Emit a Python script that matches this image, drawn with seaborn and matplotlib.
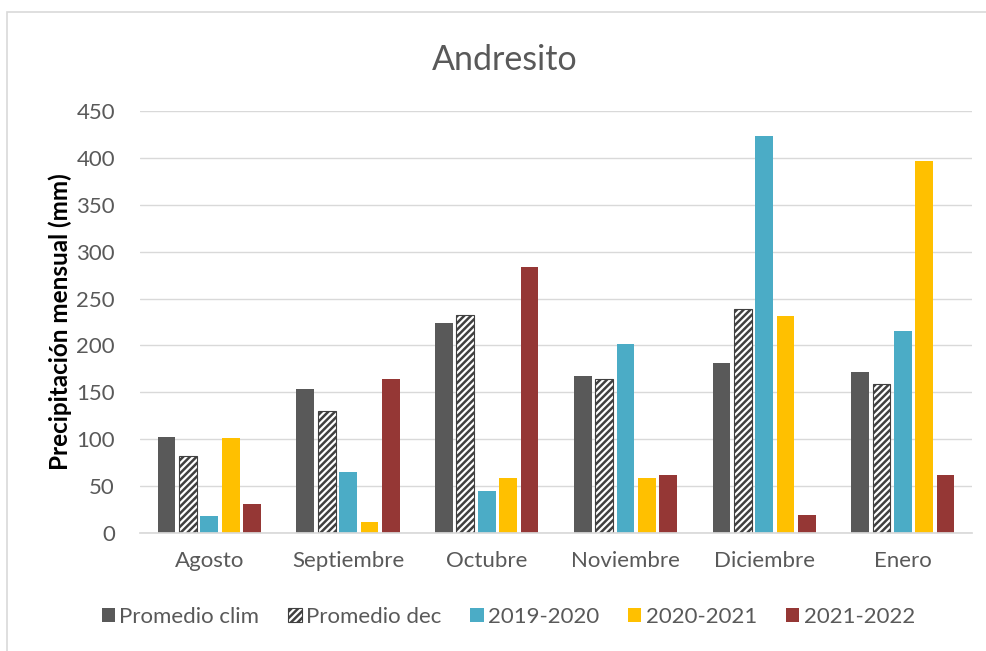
import matplotlib
matplotlib.use("Agg")
import matplotlib.pyplot as plt
import matplotlib.patches as mpatches
import numpy as np
import pandas as pd
import seaborn as sns

meses = ["Agosto", "Septiembre", "Octubre", "Noviembre", "Diciembre", "Enero"]
series = ["Promedio clim", "Promedio dec", "2019-2020", "2020-2021", "2021-2022"]

promedio_clim = [103, 154, 224, 168, 181, 172]
promedio_dec = [82, 130, 232, 164, 239, 159]
p2019_2020 = [18, 65, 45, 202, 423, 215]
p2020_2021 = [101, 12, 59, 59, 231, 396]
p2021_2022 = [31, 164, 284, 62, 19, 62]

valores = [promedio_clim, promedio_dec, p2019_2020, p2020_2021, p2021_2022]
colores = ["#595959", "#ffffff", "#4bacc6", "#ffc000", "#953735"]

df = pd.DataFrame(
    [(m, s, v) for s, vals in zip(series, valores) for m, v in zip(meses, vals)],
    columns=["mes", "serie", "valor"],
)

sns.set_theme(style="white")
plt.rcParams["font.family"] = ["Lato", "DejaVu Sans"]
plt.rcParams["hatch.color"] = "#404040"
plt.rcParams["hatch.linewidth"] = 1.8

fig = plt.figure(figsize=(9.87, 6.51), dpi=100)
ax = fig.add_axes([0.1418, 0.1808, 0.8432, 0.6492])

sns.barplot(
    data=df, x="mes", y="valor", hue="serie", order=meses, hue_order=series,
    palette=dict(zip(series, colores)), width=0.77, gap=0.17,
    saturation=1, legend=False, ax=ax, linewidth=0,
)

# hatched decadal average
n = len(meses)
for patch in ax.patches[n:2 * n]:
    patch.set_hatch("/////")
    patch.set_edgecolor("#404040")
    patch.set_linewidth(0.8)

ax.set_ylim(0, 450)
ax.set_yticks(np.arange(0, 451, 50))
ax.set_xlim(-0.5, n - 0.5)
ax.yaxis.grid(True, color="#d9d9d9", linewidth=1.0)
ax.set_axisbelow(True)
for side in ["left", "right", "top"]:
    ax.spines[side].set_visible(False)
ax.spines["bottom"].set_color("#d9d9d9")
ax.tick_params(axis="both", length=0, labelsize=16, labelcolor="#595959")
ax.tick_params(axis="y", pad=18)
ax.tick_params(axis="x", pad=13)
ax.set_xlabel("")
ax.set_ylabel("Precipitación mensual (mm)", fontsize=17.5, fontweight="bold",
              color="black", labelpad=3)
fig.text(505 / 987, 1 - 60 / 651, "Andresito", fontsize=24.5, color="#595959",
         ha="center", va="center")

handles = []
for s, c in zip(series, colores):
    if s == "Promedio dec":
        handles.append(mpatches.Patch(facecolor="white", edgecolor="#404040",
                                      hatch="/////", linewidth=0.8, label=s))
    else:
        handles.append(mpatches.Patch(facecolor=c, edgecolor="none", label=s))
fig.legend(handles=handles, loc="center", bbox_to_anchor=(0.515, 0.052),
           ncol=5, frameon=False, fontsize=16, labelcolor="#595959",
           handlelength=0.6, handleheight=0.6, handletextpad=0.2,
           columnspacing=1.3)

# chart frame
fig.patches.append(mpatches.Rectangle((7 / 987, -0.1), 1.2, 1 - 12 / 651 + 0.1,
                                      transform=fig.transFigure, fill=False,
                                      edgecolor="#d9d9d9", linewidth=1.2))

fig.savefig("out.png", dpi=100)
